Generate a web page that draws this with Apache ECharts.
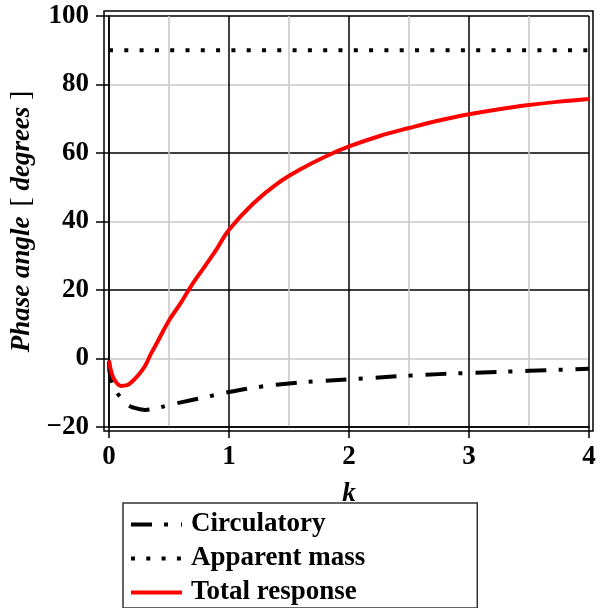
<!DOCTYPE html>
<html>
<head>
<meta charset="utf-8">
<script src="https://cdn.jsdelivr.net/npm/echarts@6/dist/echarts.min.js"></script>
<style>
  html, body { margin: 0; padding: 0; background: #fff; }
  #main { width: 600px; height: 608px; }
</style>
</head>
<body>
<div id="main"></div>
<script>
// values
var kTotal = [0, 0.02, 0.05, 0.1, 0.15, 0.2, 0.25, 0.3, 0.35, 0.4, 0.5, 0.6, 0.7, 0.8, 0.9, 1.0,
              1.2, 1.4, 1.6, 1.8, 2.0, 2.25, 2.5, 2.75, 3.0, 3.25, 3.5, 3.75, 4.0];
var total  = [-0.6, -4, -6.5, -8, -7.8, -6.5, -4.6, -2.2, 1.4, 4.6, 11.1, 16.3, 22.0, 27.0, 32.1, 37.6,
              45.2, 51.0, 55.3, 58.9, 61.9, 64.9, 67.3, 69.5, 71.3, 72.8, 74.0, 75.0, 75.8];

var kCirc = [0, 0.01, 0.05, 0.1, 0.15, 0.2, 0.3, 0.4, 0.5, 0.6, 0.8, 1.0, 1.25, 1.5, 1.75, 2.0, 2.5, 3.0, 3.5, 4.0];
var circ  = [-1, -5, -9, -11.5, -13.3, -14.3, -15, -14.5, -13.6, -12.8, -11.3, -9.8, -8.3, -7.3, -6.6, -6.1, -5.0, -4.2, -3.6, -3.0];

var kMass = [0, 4];
var mass  = [90, 90];

var seriesNames = ['Circulatory', 'Apparent mass', 'Total response'];
var yTicks = [-20, 100, 20];   // min, max, step
var xTicks = [0, 4, 1];

function pairs(xs, ys) {
  return xs.map(function (x, i) { return [x, ys[i]]; });
}

var serif = '"Liberation Serif", "DejaVu Serif", serif';

var chart = echarts.init(document.getElementById('main'));
var option = {
  animation: false,
  backgroundColor: '#fff',
  grid: { left: 109, right: 11, top: 16, bottom: 181, outerBoundsMode: 'none' },
  graphic: [{
    type: 'rect',
    shape: { x: 104, y: 11, width: 489, height: 420 },
    style: { fill: 'none', stroke: '#000', lineWidth: 1.5 },
    z: 100
  }],
  legend: {
    orient: 'vertical',
    left: 123,
    top: 503,
    height: 200,
    data: seriesNames,
    itemWidth: 51,
    itemHeight: 14,
    itemGap: 7,
    padding: [8, 112, 2, 6],
    borderColor: '#333',
    borderWidth: 1.5,
    itemStyle: { opacity: 0 },
    lineStyle: { width: 4 },
    textStyle: { fontFamily: serif, fontWeight: 'bold', fontSize: 27, color: '#000', padding: [0, 0, 0, 4] }
  },
  xAxis: {
    type: 'value',
    min: xTicks[0], max: xTicks[1], interval: xTicks[2],
    name: 'k',
    nameLocation: 'middle',
    nameGap: 54,
    nameTextStyle: { fontFamily: serif, fontWeight: 'bold', fontStyle: 'italic', fontSize: 27, color: '#000' },
    axisLine: { show: true, onZero: false, lineStyle: { color: '#000', width: 1.5 } },
    axisTick: { show: true, inside: false, length: 11, lineStyle: { color: '#000', width: 1.5 } },
    axisLabel: { margin: 17, fontFamily: serif, fontWeight: 'bold', fontSize: 27, color: '#000' },
    splitLine: { show: true, lineStyle: { color: '#000', width: 1.5 } },
    minorTick: { show: false, splitNumber: 2 },
    minorSplitLine: { show: true, lineStyle: { color: '#c8c8c8', width: 1.5 } }
  },
  yAxis: {
    type: 'value',
    min: yTicks[0], max: yTicks[1], interval: yTicks[2],
    name: '{b|Phase angle}   {n|[}  {b|degrees}  {n|]}',
    nameLocation: 'middle',
    nameGap: 52,
    nameRotate: 90,
    nameTextStyle: {
      rich: {
        b: { fontFamily: serif, fontWeight: 'bold', fontStyle: 'italic', fontSize: 27, color: '#000' },
        n: { fontFamily: serif, fontWeight: 'normal', fontSize: 28, color: '#000' }
      }
    },
    axisLine: { show: true, onZero: false, lineStyle: { color: '#000', width: 1.5 } },
    axisTick: { show: true, inside: false, length: 13, lineStyle: { color: '#000', width: 1.5 } },
    axisLabel: {
      margin: 20, fontFamily: serif, fontWeight: 'bold', fontSize: 27, color: '#000',
      formatter: function (v) { return v < 0 ? '\u2212' + Math.abs(v) : String(v); }
    },
    splitLine: { show: true, lineStyle: { color: ['#000', '#c8c8c8'], width: 1.5 } }
  },
  series: [
    {
      name: seriesNames[0],
      type: 'line',
      data: pairs(kCirc, circ),
      smooth: 0.4,
      symbol: 'none',
      lineStyle: { color: '#000', width: 4, type: [21, 12, 4, 13], cap: 'butt' },
      itemStyle: { color: '#000' },
      z: 3
    },
    {
      name: seriesNames[1],
      type: 'line',
      data: pairs(kMass, mass),
      symbol: 'none',
      lineStyle: { color: '#000', width: 4, type: [4, 11.3], cap: 'butt' },
      itemStyle: { color: '#000' },
      z: 3
    },
    {
      name: seriesNames[2],
      type: 'line',
      data: pairs(kTotal, total),
      smooth: 0.4,
      symbol: 'none',
      lineStyle: { color: '#ff0000', width: 4 },
      itemStyle: { color: '#ff0000' },
      z: 4
    }
  ]
};
chart.setOption(option);
</script>
</body>
</html>
